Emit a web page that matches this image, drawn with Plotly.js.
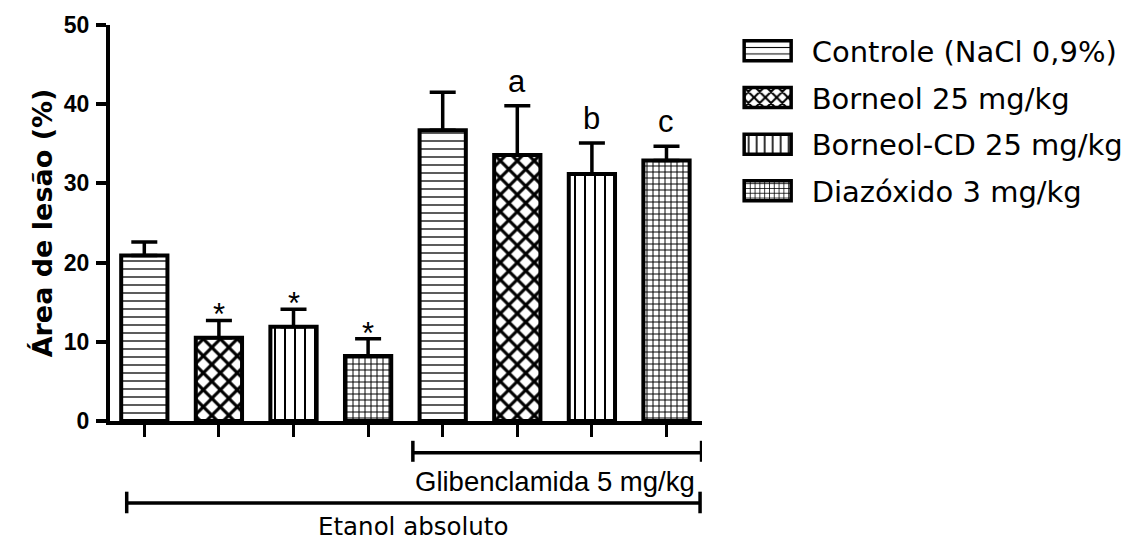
<!DOCTYPE html>
<html><head><meta charset="utf-8">
<script src="https://cdn.plot.ly/plotly-3.0.1.min.js"></script>
<style>html,body{margin:0;padding:0;background:#fff}#chart{width:1126px;height:542px}</style>
</head><body><div id="chart"></div>
<script>
// ---- data ----
const seriesNames = ['Controle (NaCl 0,9%)', 'Borneol 25 mg/kg', 'Borneol-CD 25 mg/kg', 'Diazóxido 3 mg/kg'];
const groupNames = ['Etanol absoluto', 'Glibenclamida 5 mg/kg'];
const controleMean = [20.9, 36.7];
const controleErr = [1.7, 4.8];
const borneolMean = [10.5, 33.6];
const borneolErr = [2.2, 6.2];
const borneolCDMean = [11.9, 31.2];
const borneolCDErr = [2.2, 3.9];
const diazoxidoMean = [8.2, 32.9];
const diazoxidoErr = [2.2, 1.8];
const sigLabels = [['', ''], ['*', 'a'], ['*', 'b'], ['*', 'c']];
const yTickVals = [0, 10, 20, 30, 40, 50];
const yTickText = ['0', '10', '20', '30', '40', '50'];

const means = [controleMean, borneolMean, borneolCDMean, diazoxidoMean];
const errs = [controleErr, borneolErr, borneolCDErr, diazoxidoErr];
const patterns = [
  {shape: '-', size: 8, solidity: 0.16},
  {shape: 'x', size: 12, solidity: 0.45},
  {shape: '|', size: 10, solidity: 0.2},
  {shape: '+', size: 6, solidity: 0.3}
];
const ARIAL = 'Liberation Sans, Arial, Helvetica, sans-serif';
const WIDE = 'DejaVu Sans, Verdana, sans-serif';
const nS = seriesNames.length;

const traces = seriesNames.map((name, s) => ({
  type: 'bar',
  name: name,
  legendgroup: 'g' + s,
  x: groupNames.map((g, gi) => s + gi * nS),
  y: means[s],
  width: 0.62,
  marker: {
    color: 'white',
    line: {color: 'black', width: 4},
    pattern: Object.assign({fgcolor: 'black', bgcolor: 'white', fillmode: 'replace'}, patterns[s])
  },
  error_y: {
    type: 'data', symmetric: false, array: errs[s], arrayminus: errs[s].map(() => 0),
    color: 'black', thickness: 3.5, width: 13
  },
  hoverinfo: 'skip'
}));

const annotations = [];
seriesNames.forEach((n, s) => {
  groupNames.forEach((g, gi) => {
    const lab = sigLabels[s][gi];
    if (!lab) return;
    annotations.push({
      x: s + gi * nS, y: means[s][gi] + errs[s][gi], xref: 'x', yref: 'y',
      text: lab, showarrow: false, yanchor: 'bottom', yshift: lab === '*' ? -14 : 5,
      font: {family: ARIAL, size: 31, color: 'black'}
    });
  });
});
// group bracket labels
annotations.push({x: 5.5, y: -0.152, xref: 'x', yref: 'paper', text: groupNames[1], showarrow: false,
  yanchor: 'middle', font: {family: ARIAL, size: 27.5, color: 'black'}});
annotations.push({x: 3.6, y: -0.3056, xref: 'x', yref: 'paper', text: groupNames[0], showarrow: false,
  yanchor: 'bottom', borderpad: 0, font: {family: WIDE, size: 24.5, color: 'black'}});

const lineStyle = {color: 'black', width: 3.5};
const shapes = [
  {type: 'line', xref: 'x', yref: 'paper', x0: 3.6, x1: 7.47, y0: -0.080, y1: -0.080, line: lineStyle},
  {type: 'line', xref: 'x', yref: 'paper', x0: 3.6, x1: 3.6, y0: -0.05, y1: -0.103, line: lineStyle},
  {type: 'line', xref: 'x', yref: 'paper', x0: 7.47, x1: 7.47, y0: -0.05, y1: -0.103, line: lineStyle},
  {type: 'line', xref: 'x', yref: 'paper', x0: -0.236, x1: 7.45, y0: -0.207, y1: -0.207, line: lineStyle},
  {type: 'line', xref: 'x', yref: 'paper', x0: -0.236, x1: -0.236, y0: -0.1785, y1: -0.233, line: lineStyle},
  {type: 'line', xref: 'x', yref: 'paper', x0: 7.45, x1: 7.45, y0: -0.1785, y1: -0.233, line: lineStyle}
];

const layout = {
  width: 1126, height: 542,
  margin: {l: 110, r: 424, t: 25, b: 121, autoexpand: false},
  paper_bgcolor: 'white', plot_bgcolor: 'white',
  barmode: 'overlay',
  showlegend: true,
  font: {family: ARIAL, color: 'black'},
  xaxis: {
    range: [-0.46, 7.476], showgrid: false, zeroline: false,
    showline: true, linewidth: 4, linecolor: 'black',
    ticks: 'outside', ticklen: 12, tickwidth: 3, tickcolor: 'black',
    tickvals: [0, 1, 2, 3, 4, 5, 6, 7], showticklabels: false, fixedrange: true
  },
  yaxis: {
    range: [0, 50], showgrid: false, zeroline: false,
    showline: true, linewidth: 4, linecolor: 'black',
    ticks: 'outside', ticklen: 10, tickwidth: 4, tickcolor: 'black',
    tickvals: yTickVals, ticktext: yTickText, ticklabelstandoff: 2,
    tickfont: {family: ARIAL, size: 23, weight: 'bold', color: 'black'},
    title: {text: 'Área de lesão (%)', standoff: 4,
      font: {family: WIDE, size: 27, weight: 'bold', color: 'black'}},
    automargin: false, fixedrange: true
  },
  legend: {
    x: 1.067, y: 0.999, xanchor: 'left', yanchor: 'top',
    font: {family: WIDE, size: 29, color: 'black'},
    tracegroupgap: 6, itemwidth: 60, bgcolor: 'rgba(0,0,0,0)',
    traceorder: 'grouped'
  },
  annotations: annotations,
  shapes: shapes
};

function fixLegend() {
  document.querySelectorAll('#chart .legend .legendpoints path').forEach(p => {
    p.setAttribute('d', 'M-32.5,-10H14.5V10H-32.5Z');
    p.style.strokeWidth = '3.5px';
  });
}
Plotly.newPlot('chart', traces, layout, {displayModeBar: false, staticPlot: true}).then(() => {
  fixLegend();
  const el = document.getElementById('chart');
  if (el.on) el.on('plotly_afterplot', fixLegend);
});
</script>
</body></html>
